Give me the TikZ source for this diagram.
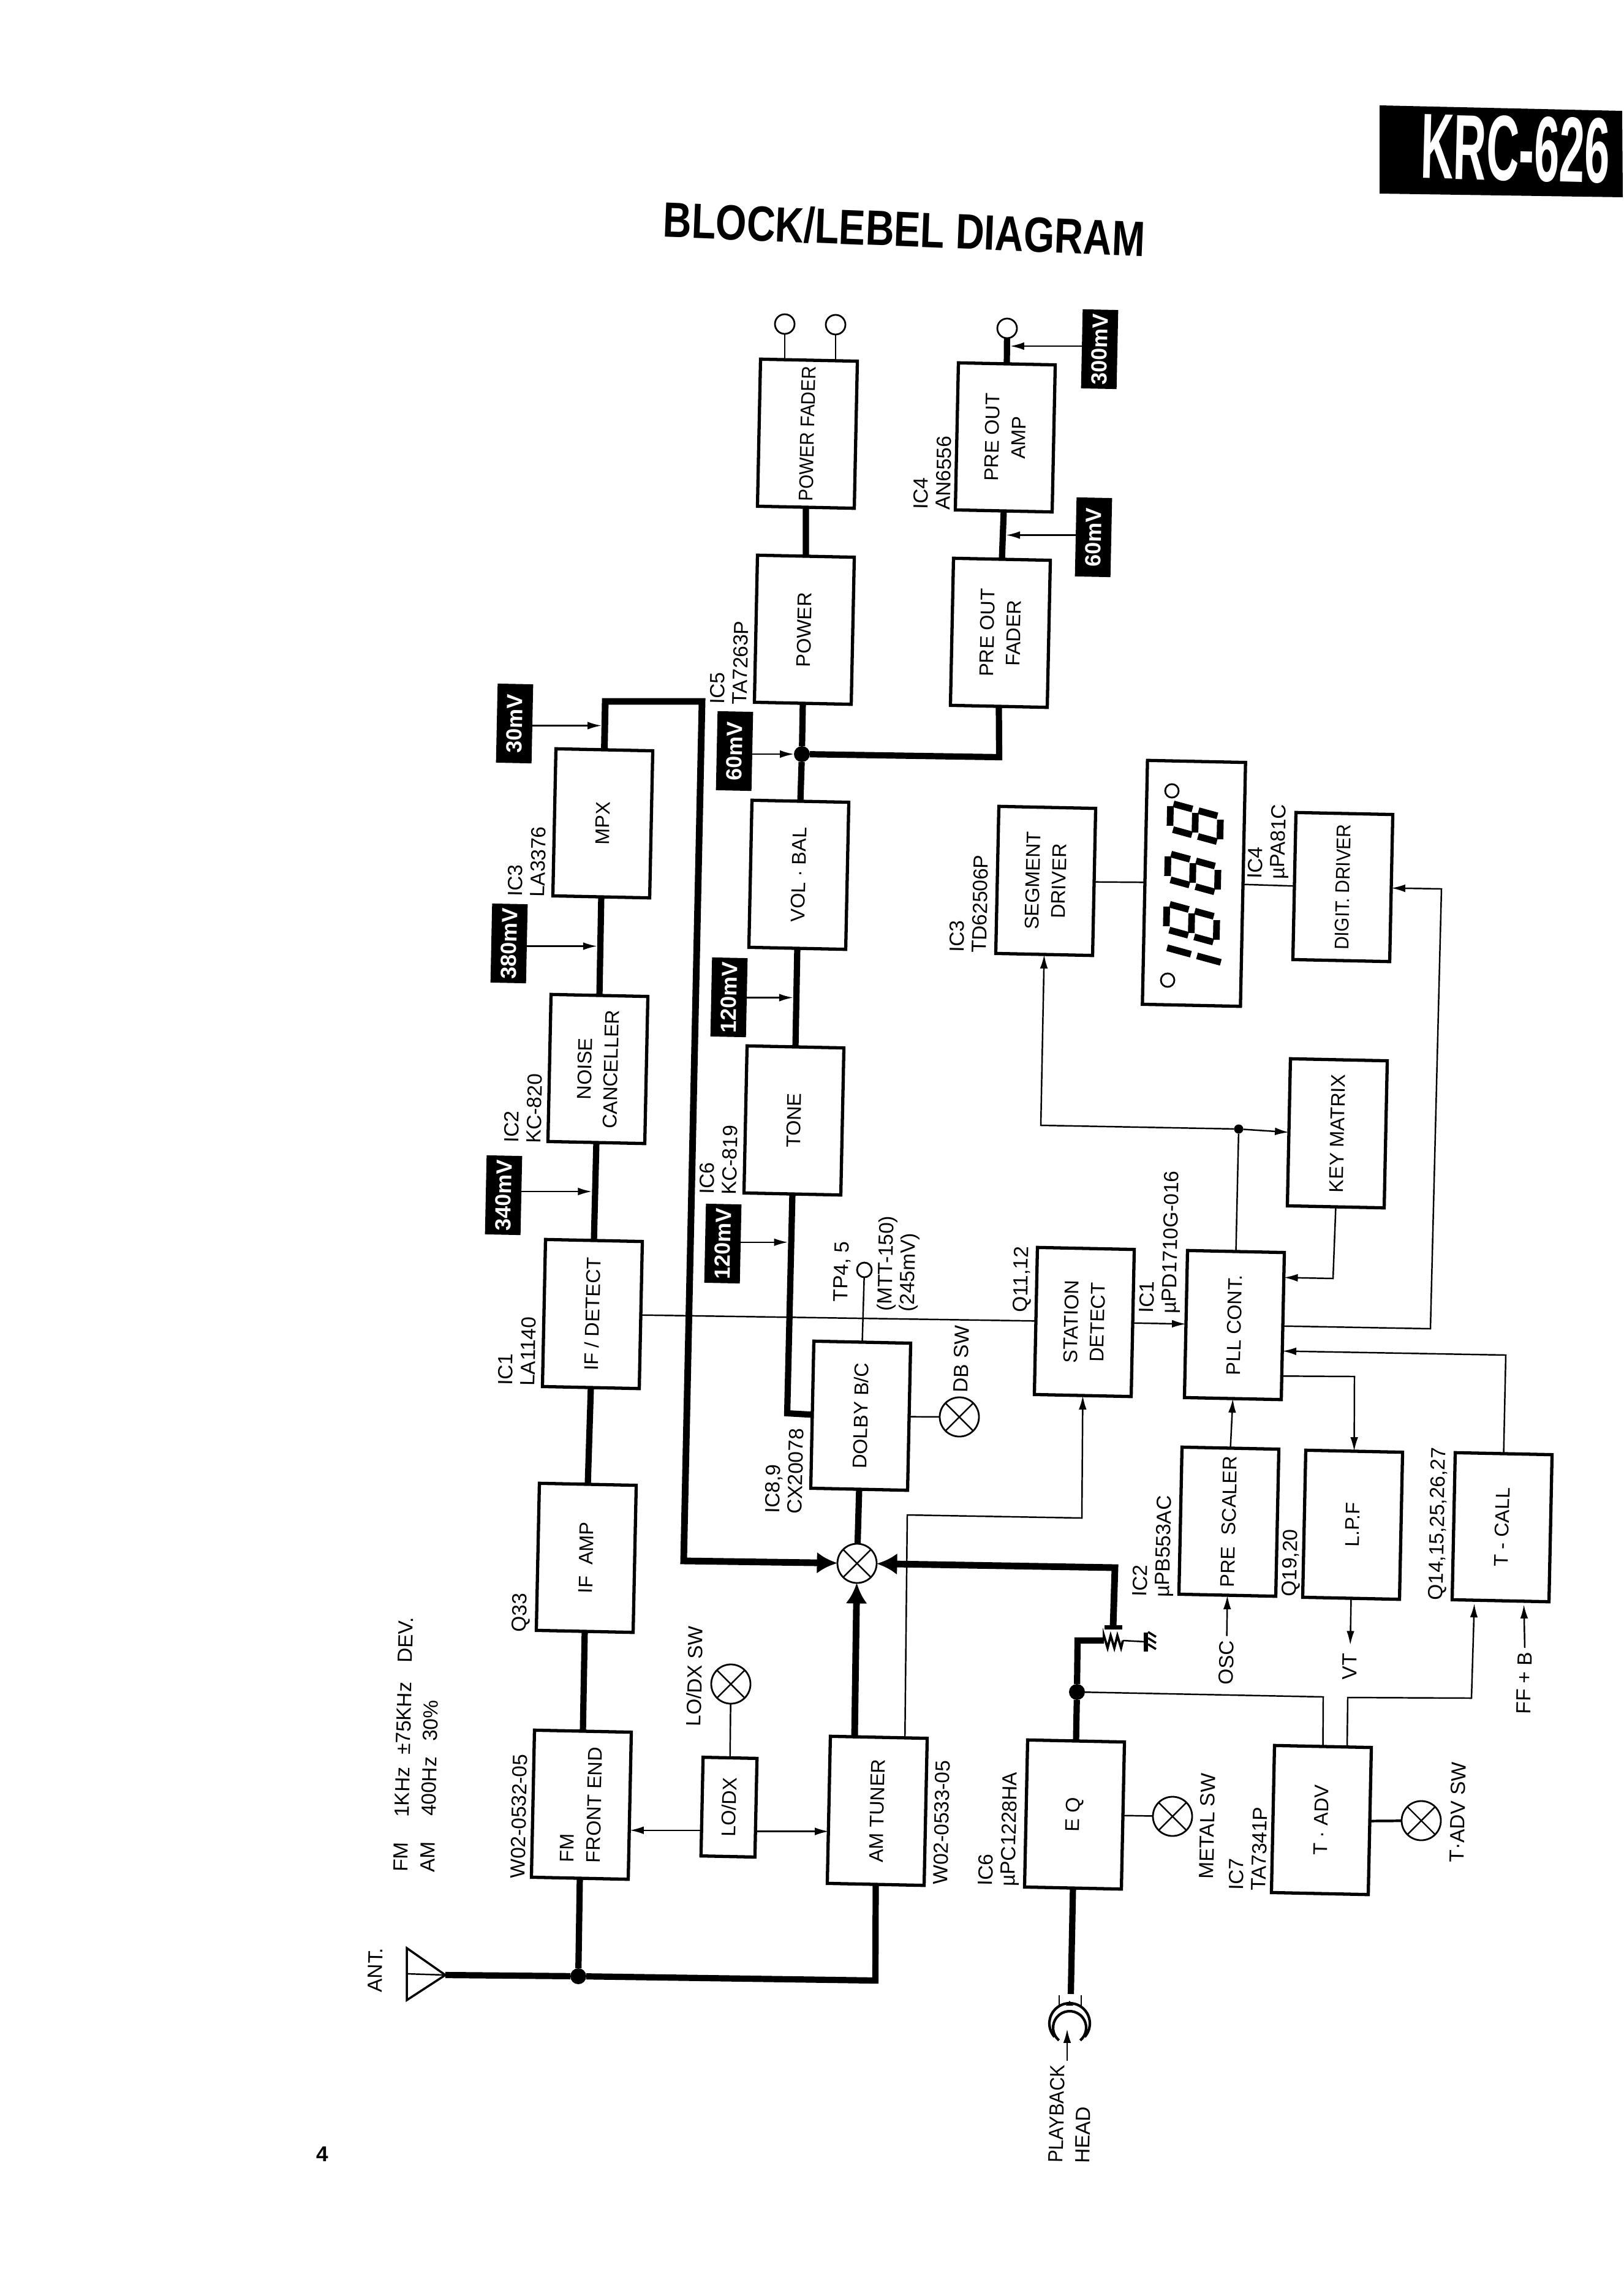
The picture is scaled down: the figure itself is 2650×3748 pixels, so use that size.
\documentclass[tikz,border=0pt]{standalone}
\usepackage{fontspec}
\setmainfont{Liberation Sans}
\usetikzlibrary{arrows.meta,calc}

\begin{document}
\begin{tikzpicture}[x=0.01cm, y=-0.01cm,
      every node/.style={font=\fontsize{9.5}{10.4}\selectfont, inner sep=0pt, outer sep=0pt},
      blockbox/.style={draw, line width=1.5pt, rotate=88.8, minimum width=2.4cm,
            minimum height=1.58cm, align=center, font=\fontsize{9.2}{12.2}\selectfont},
      labeltext/.style={rotate=88.8, anchor=west, align=left},
      leveltag/.style={fill=black, text=white, rotate=88.8, minimum width=1.29cm,
            minimum height=0.58cm, font=\fontsize{10.2}{11}\selectfont\bfseries},
      lampnode/.style={draw, line width=0.8pt, circle, minimum size=0.64cm},
      termnode/.style={draw, line width=0.8pt, circle, minimum size=0.32cm},
      jctnode/.style={fill=black, circle, minimum size=0.26cm},
      thickline/.style={line width=2.9pt},
      thickarrow/.style={line width=3.1pt, -{Latex[length=9.5pt,width=10pt]}},
      thinline/.style={line width=0.7pt},
      thinarrow/.style={line width=0.7pt, -{Latex[length=6.5pt,width=3.6pt]}},
      segline/.style={line width=3.1pt}]
    \useasboundingbox (0,0) rectangle (2650,3748);

    \fill (2252,172) -- (2648,181) -- (2649,322) -- (2252,316) -- cycle;
    \node[text=white, rotate=-1.5, font=\fontsize{43}{43}\selectfont\bfseries] (krcname) at (2474,243)
        {\scalebox{0.49}[1]{KRC-626}};
    \node[rotate=-2.3, font=\fontsize{23}{23}\selectfont\bfseries] (title) at (1476,374)
        {\scalebox{0.8}[1]{BLOCK/LEBEL DIAGRAM}};

    \foreach \blk/\cx/\cy/\txt in {
        pfader/1318/708/{\scalebox{0.92}[1]{POWER FADER}},
        power/1313/1028/POWER,
        preamp/1641/714/{PRE OUT\\AMP},
        prefader/1633/1033/{PRE OUT\\FADER},
        mpx/984/1344/MPX,
        vol/1304/1428/{VOL · BAL},
        noise/976/1745/{NOISE\\CANCELLER},
        tone/1296/1829/TONE,
        ifdet/967/2145/{IF / DETECT},
        ifamp/957/2543/{IF\ \ AMP},
        dolby/1405/2311/{DOLBY B/C},
        station/1770/2158/{STATION\\DETECT},
        pll/2015/2163/{PLL CONT.},
        prescaler/2006/2484/{PRE\ \ SCALER},
        lpf/2208/2489/{L.P.F},
        tcall/2452/2493/{T - CALL},
        keym/2183/1850/{KEY MATRIX},
        segdrv/1707/1438/{SEGMENT\\DRIVER},
        digdrv/2192/1448/{\scalebox{0.92}[1]{DIGIT. DRIVER}},
        amtuner/1432/2956/{AM TUNER},
        eqamp/1754/2962/{E Q},
        tadv/2157/2971/{T · ADV}}
      \node[blockbox] (\blk) at (\cx,\cy) {\txt};
    \node[blockbox, align=left] (fmfe) at (949,2946) {FM\\FRONT END};
    \node[blockbox, minimum width=1.61cm, minimum height=0.88cm] (lodx) at (1190,2950) {LO/DX};
    \node[blockbox, minimum width=3.98cm, minimum height=1.6cm] (disp) at (1949,1442) {};

    \foreach \tg/\cx/\cy/\txt in {
        tagA/840/1181/30mV, tagB/831/1540/380mV, tagC/822/1951/340mV,
        tagD/1199/1226/60mV, tagE/1190/1628/120mV, tagF/1180/2030/120mV,
        tagG/1785/877/60mV, tagH/1795/570/300mV}
      \node[leveltag] (\tg) at (\cx,\cy) {\txt};

    \foreach \lb/\cx/\cy/\txt in {
        lbPower/1189/1150/{IC5\\TA7263P},
        lbMpx/859/1464/{IC3\\LA3376},
        lbNoise/853/1866/{IC2\\KC-820},
        lbDet/843/2262/{IC1\\LA1140},
        lbAmp/850/2664/Q33,
        lbFm/845/3066/W02-0532-05,
        lbAm/1535/3076/W02-0533-05,
        lbTone/1172/1950/{IC6\\KC-819},
        lbDolby/1279/2471/{IC8,9\\CX20078},
        lbPre/1521/832/{IC4\\AN6556},
        lbSeg/1580/1555/{IC3\\TD62506P},
        lbDig/2070/1435/{IC4\\µPA81C},
        lbSta/1668/2142/{Q11,12},
        lbPll/1893/2144/{IC1\\µPD1710G-016},
        lbPsc/1882/2607/{IC2\\µPB553AC},
        lbLpf/2107/2606/{Q19,20},
        lbCall/2346/2612/{Q14,15,25,26,27},
        lbEq/1630/3079/{IC6\\µPC1228HA},
        lbAdv/2036/3086/{IC7\\TA7341P},
        lbLoSw/1132/2818/{LO/DX SW},
        lbDbSw/1568/2273/{DB SW},
        lbMetal/1969/3067/{METAL SW},
        lbAdvSw/2378/3040/{T·ADV SW},
        lbTp/1374/2125/{TP4, 5},
        lbMtt/1465/2141/{(MTT-150)\\(245mV)},
        lbHead/1745/3531/{\scalebox{0.92}[1]{PLAYBACK}\\[2pt]HEAD},
        lbVt/2203/2742/VT,
        lbOsc/2001/2750/OSC,
        lbFf/2487/2798/{FF + B},
        lbAnt/612/3252/ANT.}
      \node[labeltext] (\lb) at (\cx,\cy) {\txt};
    \node[labeltext] (lbNote) at (676,3056)
        {\makebox[0.89cm][l]{FM}\makebox[1.02cm][l]{1KHz}\makebox[1.5cm][l]{±75KHz}DEV.\\[2pt]
         \makebox[0.92cm][l]{AM}\makebox[1.22cm][l]{400Hz}30\%};
    \node[font=\fontsize{10}{11}\selectfont\bfseries] (pageno) at (526,3516) {4};

    \foreach \lp/\cx/\cy in {mixer/1399/2552, lampDb/1566/2313, lampLo/1193/2749,
        lampMetal/1914/2965, lampAdv/2320/2972}
      \node[lampnode] (\lp) at (\cx,\cy) {};
    \foreach \lp in {mixer,lampDb,lampLo,lampMetal,lampAdv}
      \draw[thinline] (\lp.45) -- (\lp.225) (\lp.135) -- (\lp.315);

    \node[termnode] (termA) at (1281,529) {};
    \node[termnode] (termB) at (1364,530) {};
    \node[termnode] (termC) at (1644,536) {};
    \node[termnode, minimum size=0.24cm] (tp) at (1411,2073) {};
    \node[termnode, minimum size=0.22cm] (dotA) at (1913,1291) {};
    \node[termnode, minimum size=0.22cm] (dotB) at (1906,1600) {};
    \node[jctnode] (jctA) at (1309,1231) {};
    \node[jctnode] (jctB) at (1758,2762) {};
    \node[jctnode] (jctC) at (944,3226) {};
    \node[jctnode, minimum size=0.15cm] (jctD) at (2022,1843) {};

    \coordinate (busA) at (988,1145);
    \coordinate (busB) at (1146,1145);
    \coordinate (busC) at (1116,2548);
    \coordinate (preBend) at (1631,1236);
    \coordinate (toneBend) at (1285,2307);
    \coordinate (amBend) at (1429,3233);
    \coordinate (antTip) at (727,3224);
    \coordinate (amOut) at ($(amtuner.north east)!.25!(amtuner.south east)$);
    \coordinate (amSig) at ($(amtuner.north east)!.77!(amtuner.south east)$);
    \coordinate (amSigA) at (1481,2473);
    \coordinate (amSigB) at (1766,2478);
    \coordinate (resL) at (1802,2678);
    \coordinate (resR) at (1833,2678);
    \coordinate (wipeBend) at (1759,2678);
    \coordinate (playBend) at (1820,2559);
    \coordinate (wipeTop) at (1817,2656);
    \coordinate (gnd) at (1870,2680);
    \coordinate (headTop) at (1748,3255);
    \coordinate (advA) at (2160,2770);
    \coordinate (advB) at (2200,2771);
    \coordinate (advC) at (2402,2772);
    \coordinate (advOut) at ($(tadv.north east)!.75!(tadv.south east)$);
    \coordinate (callA) at ($(tcall.north west)!.23!(tcall.south west)$);
    \coordinate (callB) at ($(tcall.north west)!.74!(tcall.south west)$);
    \coordinate (pllA) at ($(pll.south east)!.17!(pll.south west)$);
    \coordinate (pllC) at ($(pll.south east)!.67!(pll.south west)$);
    \coordinate (pllD) at ($(pll.south east)!.84!(pll.south west)$);
    \coordinate (keyBend) at (2176,2087);
    \coordinate (digA) at (2335,2169);
    \coordinate (digB) at (2353,1451);
    \coordinate (callBend) at (2458,2212);
    \coordinate (lpfBend) at (2211,2247);
    \coordinate (segBend) at (1699,1837);
    \coordinate (loL) at ($(lodx.north east)!.74!(lodx.north west)$);
    \coordinate (loR) at ($(lodx.south east)!.74!(lodx.south west)$);

    \draw[thickline] (fmfe.east) -- (ifamp.west);
    \draw[thickline] (ifamp.east) -- (ifdet.west);
    \draw[thickline] (ifdet.east) -- (noise.west);
    \draw[thickline] (noise.east) -- (mpx.west);
    \draw[thickarrow] (mpx.east) -- (busA) -- (busB) -- (busC) -- (mixer);
    \draw[thickline] (antTip) -- (jctC) -- (amBend) -- (amtuner.west);
    \draw[thickline] (fmfe.west) -- (jctC);
    \draw[thickarrow] (amOut) -- (mixer);
    \draw[thickline] (dolby.west) -- (mixer);
    \draw[thickline] (tone.west) -- (toneBend) -- (dolby.north);
    \draw[thickline] (tone.east) -- (vol.west);
    \draw[thickline] (vol.east) -- (jctA) -- (power.west);
    \draw[thickline] (jctA) -- (preBend) -- (prefader.west);
    \draw[thickline] (power.east) -- (pfader.west);
    \draw[thickline] (prefader.east) -- (preamp.west);
    \draw[thickline] (preamp.east) -- (termC);
    \draw[thickline] (headTop) -- (eqamp.west);
    \draw[thickline] (eqamp.east) -- (jctB) -- (wipeBend) -- (resL);
    \draw[thickarrow] (wipeTop) -- (playBend) -- (mixer);
    \draw[line width=2pt] (1803,2656) -- (1832,2656);
    \draw[line width=1.1pt] (resL) -- ++(0,-8) -- ++(6,20) -- ++(5,-20) -- ++(6,20) -- ++(5,-20)
        -- ++(6,20) -- (resR);
    \draw[thinline] (resR) -- (gnd);
    \draw[line width=2pt] (1870,2665) -- (1870,2696);
    \foreach \hy in {0,10,20}
      \draw[line width=1pt] (1874,2664+\hy) -- (1887,2672+\hy);

    \draw[line width=1pt] (664,3180) -- (664,3265) -- (antTip) -- cycle;
    \draw[thinline] (664,3222) -- (antTip);

    \draw[thinline] (termA) -- (termA |- pfader.east);
    \draw[thinline] (termB) -- (termB |- pfader.east);
    \draw[thinline] (tp) -- (dolby.east);
    \draw[thinline] (ifdet.south) -- (station.north);
    \draw[thinline] (dolby.south) -- (lampDb);
    \draw[thinline] (lampLo) -- (lodx.east);
    \draw[thinline] (eqamp.south) -- (lampMetal);
    \draw[line width=1.2pt] (tadv.south) -- (lampAdv);
    \draw[thinline] (segdrv.south) -- (disp.north);
    \draw[thinline] (disp.south) -- (digdrv.north);
    \draw[thinline] (pll.east) -- (jctD);
    \draw[thinarrow] (jctD) -- (keym.north);
    \draw[thinarrow] (jctD) -- (segBend) -- (segdrv.west);
    \draw[thinarrow] (keym.west) -- (keyBend) -- (pllA);
    \draw[thinarrow] (pll.south) -- (digA) -- (digB) -- (digdrv.south);
    \draw[thinarrow] (tcall.east) -- (callBend) -- (pllC);
    \draw[thinarrow] (pllD) -- (lpfBend) -- (lpf.east);
    \draw[thinarrow] (station.south) -- (pll.north);
    \draw[thinarrow] (prescaler.east) -- (pll.west);
    \draw[thinarrow, shorten <=2pt] (lbOsc.east) -- (prescaler.west);
    \draw[thinarrow, shorten >=4pt] (lpf.west) -- (lbVt.east);
    \draw[thinarrow, shorten <=2pt, shorten >=1.5pt] (lbFf.east) -- (callB);
    \draw[thinarrow] (amSig) -- (amSigA) -- (amSigB) -- (station.west);
    \draw[thinline] (jctB) -- (advA) -- (tadv.east);
    \draw[thinarrow, shorten >=1.5pt] (advOut) -- (advB) -- (advC) -- (callA);
    \draw[thinarrow] (loL) -- (loL -| fmfe.south);
    \draw[thinarrow] (loR) -- (loR -| amtuner.north);

    \foreach \tg/\fa/\fb/\fr in {tagA/mpx.east/busA/.5, tagB/noise.east/mpx.west/.5,
        tagC/ifdet.east/noise.west/.5, tagE/tone.east/vol.west/.5, tagF/tone.west/toneBend/.22} {
      \coordinate (tip\tg) at ($(\fa)!\fr!(\fb)$);
      \draw[thinarrow, shorten >=1.5pt] (tip\tg -| \tg.south) -- (tip\tg);
    }
    \foreach \tg/\fa/\fb/\fr in {tagG/prefader.east/preamp.west/.5, tagH/preamp.east/termC/.5} {
      \coordinate (tip\tg) at ($(\fa)!\fr!(\fb)$);
      \draw[thinarrow, shorten >=1.5pt] (tip\tg -| \tg.north) -- (tip\tg);
    }
    \draw[thinarrow] (jctA -| tagD.south) -- (jctA);

    \draw[line width=1.2pt] (1746,3303) ++(138:33) arc[start angle=138, end angle=402, radius=33];
    \draw[line width=1.2pt] (1746,3310) ++(130:27) arc[start angle=130, end angle=410, radius=27];
    \draw[thinline] (1729,3257) -- (1729,3276) (1765,3257) -- (1765,3276);
    \fill (1746,3266) -- (1752,3274) -- (1740,3274) -- cycle;
    \draw[thinarrow] (1742,3364) -- (1742,3312);

    \foreach \digx/\digy in {1951/1343, 1947/1425, 1945/1507} {
      \begin{scope}[shift={(\digx,\digy)}, rotate=88.8, x=0.01cm, y=0.01cm, xslant=0.25]
        \foreach \ax/\ay/\bx/\by in {-16/41/16/41, -16/0/16/0, -16/-41/16/-41,
            -21/5/-21/36, 21/5/21/36, -21/-5/-21/-36, 21/-5/21/-36}
          \draw[segline] (\ax,\ay) -- (\bx,\by);
      \end{scope}
    }
    \begin{scope}[shift={(1949,1559)}, rotate=88.8, x=0.01cm, y=0.01cm, xslant=0.25]
      \draw[segline] (0,5) -- (0,44) (0,-5) -- (0,-44);
    \end{scope}
  \end{tikzpicture}
\end{document}
